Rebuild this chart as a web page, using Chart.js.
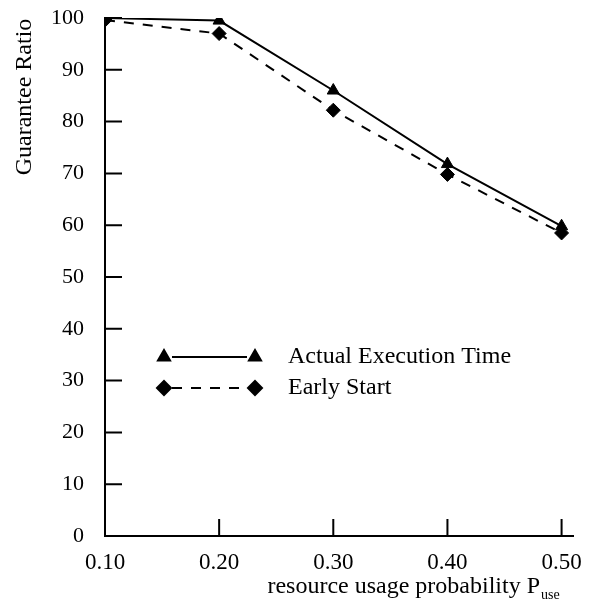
<!DOCTYPE html>
<html>
<head>
<meta charset="utf-8">
<script src="https://cdn.jsdelivr.net/npm/chart.js@4/dist/chart.umd.min.js"></script>
<style>
  html, body { margin: 0; padding: 0; background: #fff; }
  #wrap { width: 594px; height: 609px; }
</style>
</head>
<body>
<div id="wrap"><canvas id="chart"></canvas></div>
<script>
const probabilities = [0.10, 0.20, 0.30, 0.40, 0.50]
const actualExecution = [100, 99.5, 86, 71.8, 59.8]
const earlyStart = [99.6, 97, 82.2, 69.8, 58.5]
const xTicks = [0.10, 0.20, 0.30, 0.40, 0.50]
const yTicks = [0, 10, 20, 30, 40, 50, 60, 70, 80, 90, 100]
const seriesNames = ["Actual Execution Time", "Early Start"]

const serif = "'Liberation Serif', 'Times New Roman', serif"

// inward tick marks, axis titles and the marker-line-marker legend
const decorations = {
  id: "decorations",
  afterDraw(chart) {
    const ctx = chart.ctx
    const x = chart.scales.x
    const y = chart.scales.y
    const area = chart.chartArea
    ctx.save()
    ctx.strokeStyle = "#000"
    ctx.lineWidth = 2
    ctx.beginPath()
    yTicks.forEach(v => {
      const py = y.getPixelForValue(v)
      ctx.moveTo(area.left, py)
      ctx.lineTo(area.left + 17, py)
    })
    xTicks.forEach(v => {
      const px = x.getPixelForValue(v)
      ctx.moveTo(px, area.bottom)
      ctx.lineTo(px, area.bottom - 17)
    })
    ctx.stroke()

    ctx.fillStyle = "#000"
    // y title
    ctx.save()
    ctx.translate(25, 97)
    ctx.rotate(-Math.PI / 2)
    ctx.font = "24px " + serif
    ctx.textAlign = "center"
    ctx.textBaseline = "middle"
    ctx.fillText("Guarantee Ratio", 0, 0)
    ctx.restore()

    // x title with subscript
    ctx.textBaseline = "alphabetic"
    ctx.textAlign = "left"
    const main = "resource usage probability P"
    ctx.font = "24px " + serif
    const mainW = ctx.measureText(main).width
    const startX = 540 - mainW
    ctx.fillText(main, startX, 593)
    ctx.font = "14px " + serif
    ctx.fillText("use", startX + mainW + 1, 599)

    // legend
    const rows = [
      { y: 357, style: "triangle", dash: [], label: seriesNames[0] },
      { y: 388, style: "rectRot", dash: [10, 9], label: seriesNames[1] }
    ]
    rows.forEach(r => {
      ctx.setLineDash(r.dash)
      ctx.lineWidth = 2
      ctx.beginPath()
      ctx.moveTo(172, r.y)
      ctx.lineTo(247, r.y)
      ctx.stroke()
      ctx.setLineDash([])
      Chart.helpers.drawPoint(ctx, { pointStyle: r.style, radius: 7, borderWidth: 1 }, 164, r.y)
      Chart.helpers.drawPoint(ctx, { pointStyle: r.style, radius: 7, borderWidth: 1 }, 255, r.y)
      ctx.font = "24px " + serif
      ctx.textBaseline = "middle"
      ctx.fillText(r.label, 288, r.y)
    })
    ctx.restore()
  }
}

new Chart(document.getElementById("chart"), {
  type: "line",
  data: {
    datasets: [
      {
        label: seriesNames[0],
        data: probabilities.map((p, i) => ({ x: p, y: actualExecution[i] })),
        borderColor: "#000",
        backgroundColor: "#000",
        borderWidth: 2,
        pointStyle: "triangle",
        pointRadius: 7,
        pointBorderWidth: 1,
        tension: 0
      },
      {
        label: seriesNames[1],
        data: probabilities.map((p, i) => ({ x: p, y: earlyStart[i] })),
        borderColor: "#000",
        backgroundColor: "#000",
        borderWidth: 2,
        borderDash: [10, 9],
        pointStyle: "rectRot",
        pointRadius: 7,
        pointBorderWidth: 1,
        tension: 0
      }
    ]
  },
  options: {
    responsive: true,
    maintainAspectRatio: false,
    animation: false,
    layout: { padding: { top: 18, right: 21, left: 0, bottom: 0 } },
    scales: {
      x: {
        type: "linear",
        min: 0.10,
        max: 0.51,
        afterBuildTicks: s => { s.ticks = xTicks.map(v => ({ value: v })) },
        afterFit: s => { s.height = 73; s.paddingLeft = 0; s.paddingRight = 0 },
        grid: { display: false },
        border: { display: true, color: "#000", width: 2 },
        ticks: {
          color: "#000",
          padding: 5,
          maxRotation: 0,
          font: { family: serif, size: 23 },
          callback: v => v.toFixed(2)
        }
      },
      y: {
        min: 0,
        max: 100,
        afterBuildTicks: s => { s.ticks = yTicks.map(v => ({ value: v })) },
        afterFit: s => { s.width = 105; s.paddingTop = 0; s.paddingBottom = 0 },
        grid: { display: false },
        border: { display: true, color: "#000", width: 2 },
        ticks: {
          color: "#000",
          padding: 13,
          font: { family: serif, size: 22 }
        }
      }
    },
    plugins: {
      legend: { display: false },
      tooltip: { enabled: false }
    }
  },
  plugins: [decorations]
})
</script>
</body>
</html>
